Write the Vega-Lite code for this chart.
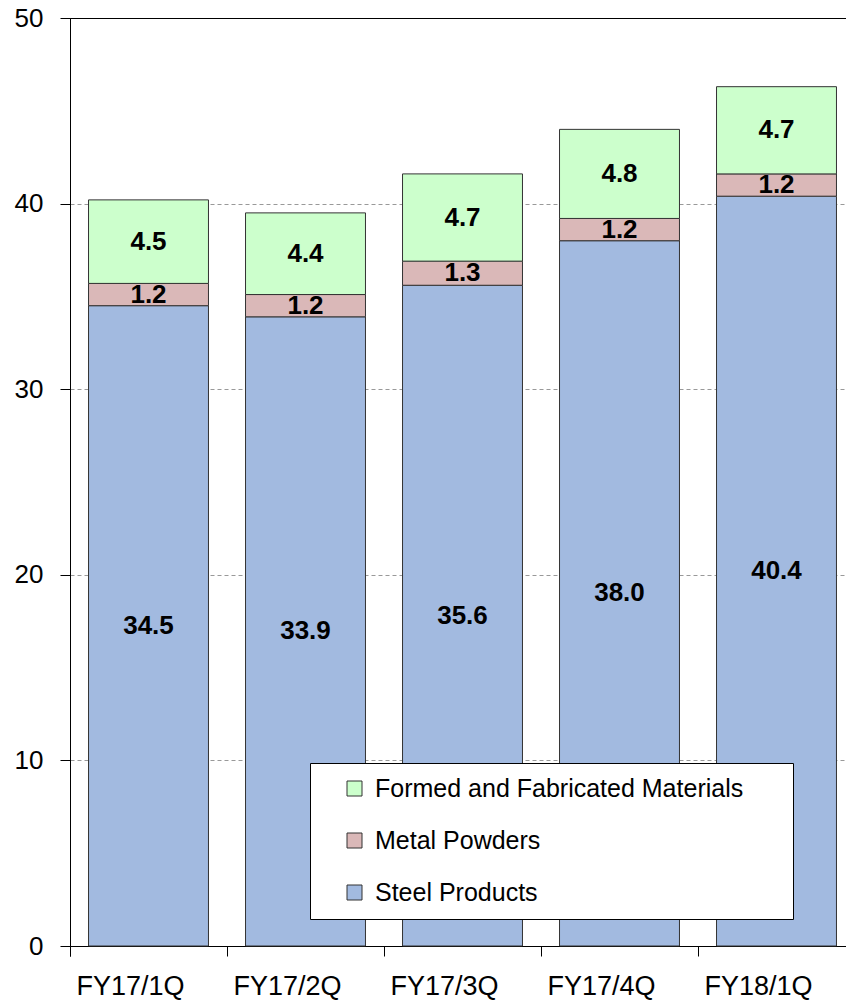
{
  "$schema": "https://vega.github.io/schema/vega-lite/v6.json",
  "autosize": {"type": "none"},
  "padding": {"left": 70, "top": 18, "right": 0, "bottom": 56},
  "width": 785,
  "height": 928,
  "background": "white",
  "config": {
    "font": "Liberation Sans",
    "view": {"stroke": "black", "strokeWidth": 1}
  },
  "data": {
    "values": [
      {"q": "FY17/1Q", "series": "Steel Products", "order": 1, "value": 34.5},
      {"q": "FY17/1Q", "series": "Metal Powders", "order": 2, "value": 1.2},
      {"q": "FY17/1Q", "series": "Formed and Fabricated Materials", "order": 3, "value": 4.5},
      {"q": "FY17/2Q", "series": "Steel Products", "order": 1, "value": 33.9},
      {"q": "FY17/2Q", "series": "Metal Powders", "order": 2, "value": 1.2},
      {"q": "FY17/2Q", "series": "Formed and Fabricated Materials", "order": 3, "value": 4.4},
      {"q": "FY17/3Q", "series": "Steel Products", "order": 1, "value": 35.6},
      {"q": "FY17/3Q", "series": "Metal Powders", "order": 2, "value": 1.3},
      {"q": "FY17/3Q", "series": "Formed and Fabricated Materials", "order": 3, "value": 4.7},
      {"q": "FY17/4Q", "series": "Steel Products", "order": 1, "value": 38.0},
      {"q": "FY17/4Q", "series": "Metal Powders", "order": 2, "value": 1.2},
      {"q": "FY17/4Q", "series": "Formed and Fabricated Materials", "order": 3, "value": 4.8},
      {"q": "FY18/1Q", "series": "Steel Products", "order": 1, "value": 40.4},
      {"q": "FY18/1Q", "series": "Metal Powders", "order": 2, "value": 1.2},
      {"q": "FY18/1Q", "series": "Formed and Fabricated Materials", "order": 3, "value": 4.7}
    ]
  },
  "transform": [
    {"stack": "value", "groupby": ["q"], "sort": [{"field": "order", "order": "ascending"}], "as": ["y0", "y1"]},
    {"calculate": "(datum.y0 + datum.y1) / 2", "as": "mid"}
  ],
  "encoding": {
    "x": {
      "field": "q", "type": "nominal", "sort": null, "title": null,
      "scale": {"paddingInner": 0.236, "paddingOuter": 0.118},
      "axis": {
        "labelAngle": 0, "labelFontSize": 27, "labelColor": "black", "labelPadding": 17,
        "domainColor": "black", "tickColor": "black", "tickSize": 10,
        "bandPosition": 0, "tickOffset": -18.5, "tickExtra": true, "grid": false
      }
    }
  },
  "layer": [
    {
      "mark": {"type": "bar", "stroke": "#333333", "strokeWidth": 1},
      "encoding": {
        "y": {
          "field": "y0", "type": "quantitative", "title": null,
          "scale": {"domain": [0, 50], "nice": false},
          "axis": {
            "values": [0, 10, 20, 30, 40, 50], "labelFontSize": 26, "labelColor": "black", "labelPadding": 17,
            "domainColor": "black", "tickColor": "black", "tickSize": 10,
            "grid": true,
            "gridColor": {"condition": {"test": "datum.value === 50", "value": "black"}, "value": "#999999"},
            "gridDash": {"condition": {"test": "datum.value === 50", "value": []}, "value": [4, 3]},
            "gridWidth": 1
          }
        },
        "y2": {"field": "y1"},
        "color": {
          "field": "series", "type": "nominal",
          "scale": {
            "domain": ["Formed and Fabricated Materials", "Metal Powders", "Steel Products"],
            "range": ["#CCFFCC", "#DAB8B8", "#A2BAE0"]
          },
          "legend": {
            "title": " ", "titleOrient": "right", "titlePadding": 37, "titleFontSize": 20,
            "orient": "none", "legendX": 240, "legendY": 745,
            "padding": 13, "fillColor": "white", "strokeColor": "black",
            "symbolType": "square", "symbolSize": 225, "symbolStrokeColor": "#333333", "symbolStrokeWidth": 1,
            "symbolOpacity": 1, "symbolOffset": 19,
            "labelFontSize": 25, "labelColor": "black", "labelOffset": 8, "labelLimit": 600,
            "rowPadding": 26
          }
        }
      }
    },
    {
      "mark": {"type": "text", "fontSize": 26, "fontWeight": "bold", "color": "black", "baseline": "middle", "align": "center"},
      "encoding": {
        "y": {"field": "mid", "type": "quantitative"},
        "text": {"field": "value", "type": "quantitative", "format": ".1f"}
      }
    }
  ]
}
